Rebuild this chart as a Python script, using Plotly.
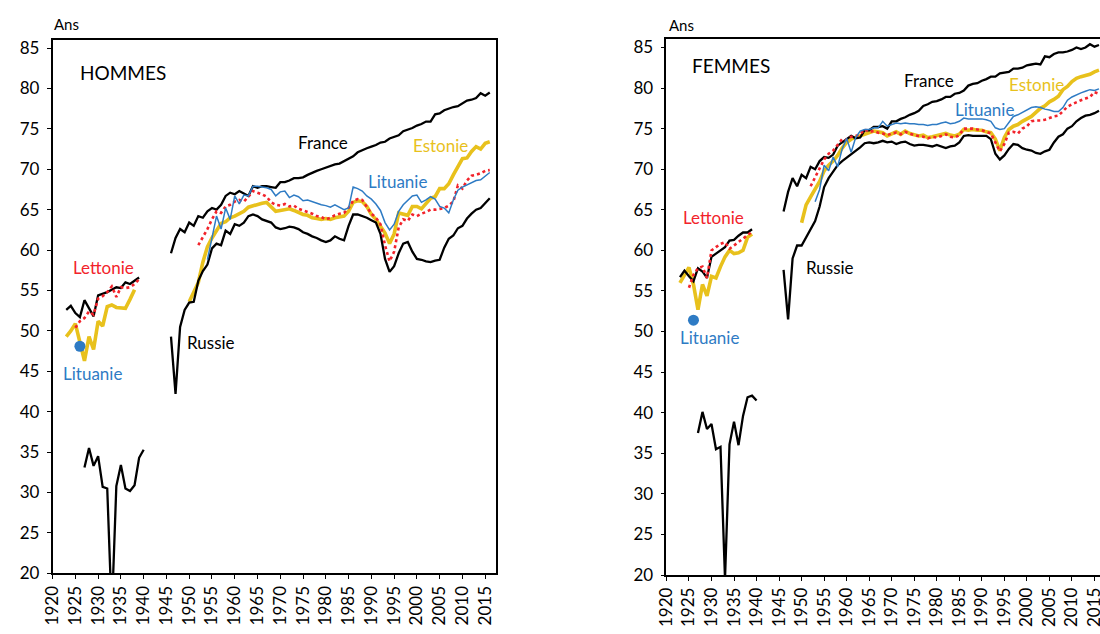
import plotly.graph_objects as go

W, H = 1108, 634   # the page shows the first 1100 px; the right panel runs past the edge

# ---------------- DATA : HOMMES ----------------
fr_m_pre_start = 1923
fr_m_pre = [52.6, 53.1, 52.2, 51.7, 53.8, 52.8, 51.8, 54.4, 54.6, 54.8, 55.1, 55.4, 55.3, 56.0, 55.8, 56.2, 56.6]
fr_m_post_start = 1946
fr_m_post = [59.6, 61.5, 62.6, 62.2, 63.4, 63.0, 64.2, 64.0, 64.8, 65.2, 65.0, 65.6, 66.7, 67.1, 66.9, 67.3,
             67.0, 66.7, 67.9, 67.7, 67.9, 67.9, 67.8, 67.7, 68.4, 68.4, 68.6, 68.9, 68.9, 69.0, 69.3, 69.6,
             69.8, 70.0, 70.2, 70.4, 70.6, 70.7, 71.0, 71.3, 71.6, 72.1, 72.4, 72.6, 72.8, 73.0, 73.3, 73.4,
             73.8, 74.0, 74.2, 74.7, 74.9, 75.1, 75.4, 75.6, 75.9, 75.9, 76.8, 76.9, 77.3, 77.5, 77.7, 77.8,
             78.1, 78.5, 78.6, 78.8, 79.4, 79.1, 79.5]

ru_m_pre_start = 1927
ru_m_pre = [33.1, 35.5, 33.3, 34.5, 30.7, 30.5, 15.0, 30.8, 33.4, 30.5, 30.2, 30.9, 34.3, 35.3]
ru_m_post_start = 1946
ru_m_post = [49.3, 42.2, 50.5, 52.6, 53.5, 53.6, 56.2, 57.4, 58.2, 60.2, 60.8, 60.6, 62.4, 62.0, 63.2, 63.0,
             63.4, 64.2, 64.4, 64.2, 63.8, 63.6, 63.4, 62.8, 62.6, 62.7, 62.9, 62.8, 62.6, 62.2, 62.0, 61.7,
             61.5, 61.2, 61.0, 61.2, 61.7, 61.4, 61.2, 63.0, 64.4, 64.4, 64.2, 64.0, 63.7, 63.4, 62.0, 58.9,
             57.3, 58.0, 59.6, 60.8, 61.0, 59.8, 58.9, 58.8, 58.6, 58.5, 58.7, 58.8, 60.3, 61.4, 61.8, 62.7,
             63.0, 63.9, 64.5, 65.0, 65.2, 65.8, 66.4]

ee_m_pre_start = 1923
ee_m_pre = [49.3, 50.0, 50.9, 48.5, 46.3, 49.3, 47.7, 51.2, 50.6, 53.0, 53.2, 52.9, 52.8, 52.8, 53.9, 55.1]
ee_m_post_start = 1950
ee_m_post = [53.6, 54.8, 56.0, 58.5, 60.4, 61.5, 62.4, 63.3, 63.5, 64.0, 64.2, 64.5, 64.8, 65.3, 65.5, 65.6,
             65.8, 65.9, 65.3, 64.8, 64.9, 65.0, 65.1, 64.9, 64.6, 64.4, 64.3, 64.0, 63.9, 63.8, 63.9, 63.8,
             64.0, 64.1, 64.2, 64.8, 65.9, 66.1, 66.0, 65.4, 64.4, 63.8, 63.0, 62.1, 60.8, 62.0, 64.6, 64.5,
             64.3, 65.4, 65.4, 65.1, 65.8, 66.4, 66.6, 67.6, 67.6, 68.2, 69.3, 70.4, 71.3, 71.4, 72.2, 72.8,
             72.5, 73.2, 73.4]

lv_m_pre_start = 1925
lv_m_pre = [50.4, 51.2, 51.6, 52.4, 52.0, 54.0, 54.3, 54.8, 55.5, 54.2, 55.4, 55.3, 55.4, 55.8, 56.4]
lv_m_post_start = 1952
lv_m_post = [60.6, 61.6, 62.6, 63.8, 64.8, 64.6, 65.4, 65.6, 66.0, 66.2, 66.0, 66.6, 67.3, 67.1, 66.9, 66.6,
             65.9, 65.6, 65.5, 65.7, 65.4, 65.5, 65.1, 64.9, 64.7, 64.5, 64.2, 64.1, 63.8, 64.0, 64.3, 64.5,
             64.6, 65.2, 66.1, 66.3, 66.2, 65.3, 64.5, 64.0, 63.2, 60.6, 58.6, 59.8, 62.8, 63.8, 63.6, 64.4,
             64.2, 64.5, 64.7, 65.0, 65.0, 65.1, 65.2, 65.5, 66.0, 68.0, 67.6, 68.6, 69.2, 69.3, 69.5, 69.8,
             69.9]

lt_m_dot_year = [1926]
lt_m_dot = [48.1]
lt_m_post_start = 1954
lt_m_post = [58.8, 61.5, 64.2, 62.6, 65.2, 63.8, 66.7, 65.7, 66.8, 66.7, 67.9, 67.9, 67.8, 67.7, 67.5, 66.7,
             67.2, 67.3, 66.5, 66.8, 66.6, 66.1, 66.2, 66.0, 65.8, 65.6, 65.5, 65.3, 65.6, 65.3, 65.0, 65.2,
             67.8, 67.6, 67.3, 66.7, 66.3, 65.7, 64.9, 63.4, 62.5, 63.2, 64.8, 65.6, 66.1, 66.7, 66.8, 65.9,
             66.2, 66.6, 66.3, 65.4, 65.2, 64.6, 66.2, 67.4, 67.8, 68.1, 68.4, 68.6, 68.7, 69.2, 69.6]

# ---------------- DATA : FEMMES ----------------
fr_f_pre_start = 1923
fr_f_pre = [56.7, 57.5, 56.8, 56.2, 57.8, 57.4, 56.6, 59.2, 59.6, 60.0, 60.4, 61.2, 61.3, 61.8, 62.2, 62.2, 62.6]
fr_f_post_start = 1946
fr_f_post = [64.8, 67.2, 68.9, 67.9, 69.3, 68.9, 70.3, 70.0, 71.0, 71.5, 71.4, 71.8, 72.9, 73.3, 73.6, 74.1,
             73.8, 73.9, 74.8, 74.8, 75.2, 75.2, 75.3, 75.0, 75.9, 75.9, 76.2, 76.4, 76.7, 76.9, 77.2, 77.8,
             78.0, 78.3, 78.4, 78.6, 78.9, 78.9, 79.3, 79.4, 79.7, 80.3, 80.5, 80.6, 80.9, 81.1, 81.4, 81.4,
             81.8, 81.9, 82.0, 82.4, 82.4, 82.5, 82.8, 82.9, 83.0, 82.9, 83.9, 83.8, 84.2, 84.4, 84.4, 84.5,
             84.7, 85.0, 84.8, 85.0, 85.4, 85.1, 85.3]

ru_f_pre_start = 1927
ru_f_pre = [37.5, 40.1, 38.0, 38.6, 35.5, 35.8, 19.5, 36.1, 38.9, 36.0, 39.6, 41.9, 42.1, 41.5]
ru_f_post_start = 1946
ru_f_post = [57.6, 51.5, 59.0, 60.6, 60.6, 61.6, 62.6, 63.6, 65.4, 67.8, 68.9, 69.7, 70.5, 71.0, 71.4, 71.9,
             72.3, 72.7, 73.2, 73.3, 73.2, 73.3, 73.5, 73.3, 73.4, 73.1, 73.3, 73.4, 73.1, 72.9, 73.0, 73.0,
             72.9, 72.8, 73.0, 72.8, 72.6, 72.8, 72.9, 73.3, 74.1, 74.2, 74.1, 74.1, 74.1, 74.1, 73.7, 71.9,
             71.2, 71.7, 72.5, 73.1, 73.0, 72.6, 72.4, 72.3, 72.0, 71.9, 72.2, 72.4, 73.3, 74.0, 74.3, 75.0,
             75.3, 75.9, 76.3, 76.6, 76.7, 76.9, 77.2]

ee_f_pre_start = 1923
ee_f_pre = [56.0, 56.9, 57.9, 55.8, 52.7, 55.8, 54.4, 56.8, 56.6, 58.0, 59.2, 60.0, 59.6, 59.7, 60.0, 61.6, 62.0]
ee_f_post_start = 1950
ee_f_post = [63.4, 65.6, 66.6, 67.5, 68.5, 69.8, 70.5, 71.0, 71.7, 72.6, 73.3, 73.7, 73.9, 74.0, 74.3, 74.5,
             74.7, 74.6, 74.5, 74.1, 74.3, 74.6, 74.3, 74.7, 74.4, 74.3, 74.1, 74.2, 73.9, 74.0, 74.1, 74.3,
             74.4, 74.2, 74.1, 74.3, 74.9, 74.8, 74.9, 74.8, 74.8, 74.6, 74.5, 73.7, 72.3, 73.9, 74.9, 75.3,
             75.5, 75.9, 76.2, 76.5, 77.0, 77.5, 77.8, 78.3, 78.6, 79.0, 79.8, 80.2, 80.8, 81.2, 81.4, 81.5,
             81.7, 82.0, 82.2]

lv_f_pre_start = 1925
lv_f_pre = [55.4, 57.0, 57.8, 58.0, 56.6, 60.0, 60.4, 60.8, 61.0, 60.2, 60.6, 61.0, 61.5, 61.9, 62.3]
lv_f_post_start = 1952
lv_f_post = [67.9, 69.0, 70.0, 71.2, 71.9, 72.3, 73.0, 73.7, 73.6, 74.0, 74.1, 74.3, 74.9, 74.6, 74.7, 74.5,
             74.4, 74.2, 74.4, 74.5, 74.3, 74.6, 74.4, 74.2, 74.1, 74.0, 73.8, 74.0, 73.9, 74.1, 74.3, 74.0,
             73.9, 74.2, 75.0, 75.0, 75.0, 74.9, 74.8, 74.6, 74.4, 73.3, 72.2, 73.1, 74.5, 74.6, 74.4, 75.0,
             75.3, 75.9, 76.0, 76.0, 76.1, 76.3, 76.5, 76.6, 77.2, 77.7, 78.0, 78.3, 78.5, 78.7, 78.9, 79.5,
             79.3]

lt_f_dot_year = [1926]
lt_f_dot = [51.4]
lt_f_post_start = 1953
lt_f_post = [66.0, 67.5, 70.5, 69.8, 71.5, 70.3, 72.5, 73.8, 72.1, 73.9, 74.7, 74.9, 74.9, 75.1, 75.1, 75.9,
             75.3, 75.5, 75.7, 75.6, 75.7, 75.6, 75.6, 75.5, 75.5, 75.4, 75.5, 75.5, 75.7, 75.8, 75.6, 75.7,
             75.9, 76.3, 76.2, 76.2, 76.2, 76.2, 76.1, 75.9, 75.1, 74.9, 75.0, 75.8, 76.5, 76.7, 77.0, 77.3,
             77.6, 77.7, 77.6, 77.4, 77.3, 77.1, 77.1, 77.6, 78.5, 78.9, 79.2, 79.4, 79.6, 79.8, 79.7, 79.9]

x_tick_years = list(range(1920, 2016, 5))
y_tick_vals = list(range(20, 86, 5))

# ---------------- STYLE ----------------
FONT = "Lato, 'Open Sans', sans-serif"
BLACK = "#000000"
GOLD = "#E8C11C"
RED = "#F2232B"
BLUE = "#2E7BC4"


def yrs(start, vals):
    return list(range(start, start + len(vals)))


fig = go.Figure()


def add_line(xa, ya, start, vals, color, width, dash="solid"):
    fig.add_trace(go.Scatter(x=yrs(start, vals), y=vals, mode="lines",
                             line=dict(color=color, width=width, dash=dash),
                             xaxis=xa, yaxis=ya, showlegend=False, hoverinfo="skip"))


panels = [
    ("x", "y", dict(ee=[(ee_m_pre_start, ee_m_pre), (ee_m_post_start, ee_m_post)],
                    fr=[(fr_m_pre_start, fr_m_pre), (fr_m_post_start, fr_m_post)],
                    ru=[(ru_m_pre_start, ru_m_pre), (ru_m_post_start, ru_m_post)],
                    lv=[(lv_m_pre_start, lv_m_pre), (lv_m_post_start, lv_m_post)],
                    lt=[(lt_m_post_start, lt_m_post)],
                    dot=(lt_m_dot_year, lt_m_dot))),
    ("x2", "y2", dict(ee=[(ee_f_pre_start, ee_f_pre), (ee_f_post_start, ee_f_post)],
                      fr=[(fr_f_pre_start, fr_f_pre), (fr_f_post_start, fr_f_post)],
                      ru=[(ru_f_pre_start, ru_f_pre), (ru_f_post_start, ru_f_post)],
                      lv=[(lv_f_pre_start, lv_f_pre), (lv_f_post_start, lv_f_post)],
                      lt=[(lt_f_post_start, lt_f_post)],
                      dot=(lt_f_dot_year, lt_f_dot))),
]

for xa, ya, d in panels:
    for s, v in d["ee"]:
        add_line(xa, ya, s, v, GOLD, 3.6)
    for s, v in d["ru"]:
        add_line(xa, ya, s, v, BLACK, 2.3)
    for s, v in d["fr"]:
        add_line(xa, ya, s, v, BLACK, 2.3)
    for s, v in d["lv"]:
        add_line(xa, ya, s, v, RED, 2.6, "dot")
    for s, v in d["lt"]:
        add_line(xa, ya, s, v, BLUE, 1.5)
    fig.add_trace(go.Scatter(x=d["dot"][0], y=d["dot"][1], mode="markers",
                             marker=dict(color=BLUE, size=11), xaxis=xa, yaxis=ya,
                             showlegend=False, hoverinfo="skip"))


# page pixel -> paper coordinate (page margin removed, so page == figure)
def px(xp):
    return xp / W


def py(yp):
    return 1 - yp / H


xcommon = dict(tickmode="array", tickvals=x_tick_years, ticktext=[str(v) for v in x_tick_years],
               tickangle=-90, ticks="outside", ticklen=4, tickwidth=1, tickcolor=BLACK,
               showline=True, linecolor=BLACK, linewidth=1.6, mirror=True, showgrid=False,
               zeroline=False, tickfont=dict(family=FONT, size=17, color=BLACK))
ycommon = dict(tickmode="array", tickvals=y_tick_vals, range=[20, 86], ticks="outside", ticklen=4,
               tickwidth=1, tickcolor=BLACK, showline=True, linecolor=BLACK, linewidth=1.6,
               showgrid=False, zeroline=False, ticklabelstandoff=4,
               tickfont=dict(family=FONT, size=17, color=BLACK))

fig.update_layout(
    width=W, height=H, margin=dict(l=0, r=0, t=0, b=0),
    paper_bgcolor="white", plot_bgcolor="white", showlegend=False,
    xaxis=dict(domain=[px(42), px(490)], range=[1920, 2017.4], anchor="y", **xcommon),
    yaxis=dict(domain=[py(582.3), py(37.7)], anchor="x", mirror=True, **ycommon),
    xaxis2=dict(domain=[px(662), 1.0], range=[1920, 2018.0], anchor="y2", **xcommon),
    yaxis2=dict(domain=[py(584), py(37.1)], anchor="x2", mirror=False, **ycommon),
)


def note(text, xc, yc, color=BLACK, size=17, xanchor="center"):
    fig.add_annotation(text=text, x=px(xc), y=py(yc), xref="paper", yref="paper",
                       xanchor=xanchor, yanchor="middle", showarrow=False,
                       font=dict(family=FONT, size=size, color=color))


# left panel texts
note("Ans", 41, 21, size=15, xanchor="left")
note("HOMMES", 68, 71, size=19, xanchor="left")
note("France", 315, 142)
note("Estonie", 434, 145, GOLD)
note("Lituanie", 390, 182, BLUE)
note("Russie", 202, 347)
note("Lettonie", 93, 270, RED)
note("Lituanie", 82, 378, BLUE)
# right panel texts
note("Ans", 663, 22, size=15, xanchor="left")
note("FEMMES", 686, 64, size=19, xanchor="left")
note("France", 927, 79)
note("Estonie", 1036, 83, GOLD)
note("Lituanie", 983, 109, BLUE)
note("Russie", 827, 270)
note("Lettonie", 710, 219, RED)
note("Lituanie", 705, 342, BLUE)

fig.write_html("out.html", config={"displayModeBar": False},
               post_script="document.body.style.margin='0px';document.body.style.overflow='hidden';")
